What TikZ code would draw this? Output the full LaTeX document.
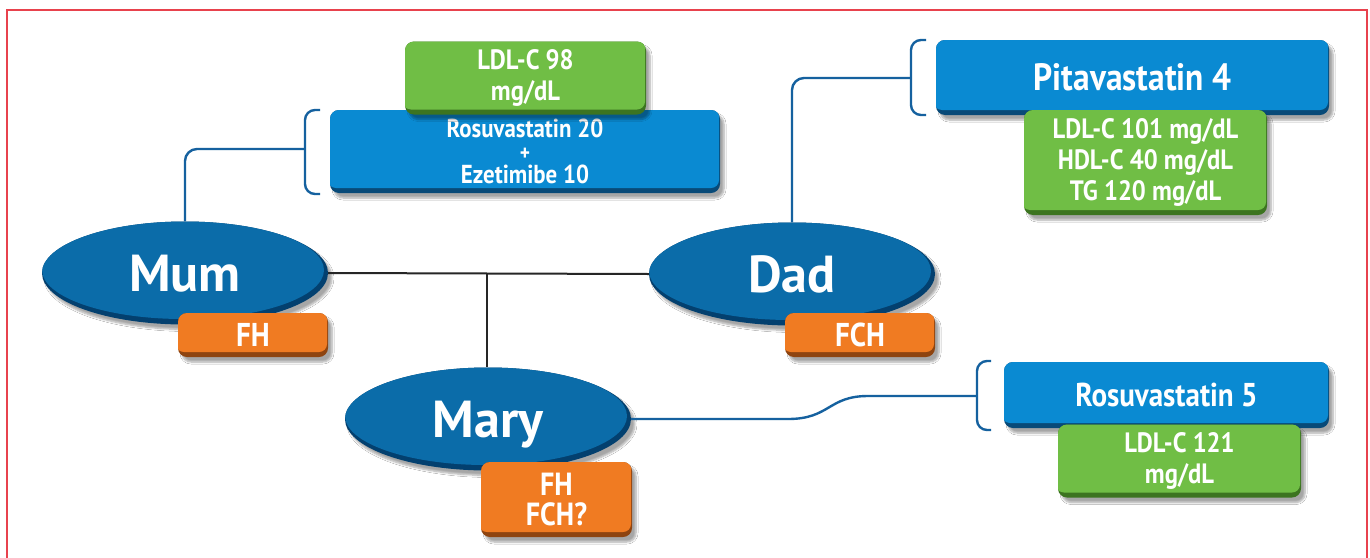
\documentclass[tikz,border=0pt]{standalone}
\usepackage{fontspec}
\setmainfont{PT Sans}
\newfontfamily\boxfont[FakeStretch=0.88]{PT Sans}
\usetikzlibrary{shapes.geometric,shadows.blur}
\definecolor{ellmain}{HTML}{0B6CA9}
\definecolor{elldark}{HTML}{03406F}
\definecolor{bluemain}{HTML}{0A8AD2}
\definecolor{bluedark}{HTML}{084A78}
\definecolor{greenmain}{HTML}{70BE45}
\definecolor{greendark}{HTML}{3C7420}
\definecolor{orangemain}{HTML}{F07B22}
\definecolor{orangedark}{HTML}{8E4410}
\definecolor{connblue}{HTML}{15619F}
\definecolor{framered}{HTML}{E8424D}
\tikzset{
  shade box/.style={blur shadow={shadow xshift=4pt, shadow yshift=-5pt, shadow opacity=35, shadow blur steps=6}},
  bevelbox/.style n args={2}{rectangle, rounded corners=9pt, inner sep=0pt, fill=#2, text=white, align=center,
    shade box,
    path picture={\fill[#1, rounded corners=8pt] ([xshift=-2pt,yshift=2pt]path picture bounding box.north west) rectangle ([xshift=-1pt,yshift=5pt]path picture bounding box.south east);}},
  bluebox/.style={bevelbox={bluemain}{bluedark}},
  greenbox/.style={bevelbox={greenmain}{greendark}},
  orangebox/.style={bevelbox={orangemain}{orangedark}},
  famell/.style={ellipse, minimum width=286pt, minimum height=103pt, inner sep=0pt, fill=elldark, text=white,
    shade box, font=\fontsize{52}{52}\selectfont\bfseries, text height=36pt, text depth=0pt,
    path picture={\fill[ellmain] ([xshift=-2pt,yshift=3pt]path picture bounding box.center) ellipse [x radius=141pt, y radius=49pt];}},
  btext/.style={font=\boxfont\bfseries\fontsize{28}{31}\selectfont},
  conn/.style={draw=connblue, line width=2.4pt, rounded corners=12pt},
  bracket/.style={draw=connblue, line width=2.4pt, rounded corners=10pt},
  family/.style={draw=black!85, line width=2pt},
}
\begin{document}
\begin{tikzpicture}[x=1pt,y=-1pt]
\useasboundingbox (0,0) rectangle (1370,557);
\fill[white] (0,0) rectangle (1370,557);
\draw[framered, line width=1.6pt] (7,10) rectangle (1367,620);

% family ellipses
\node[famell] (mum) at (185,273) {Mum};
\node[famell] (dad) at (792,274) {Dad};
\node[famell] (mary) at (488,419) {Mary};

% family lines
\coordinate (jn) at (487,273);
\draw[family] (mum.east) -- (dad.west);
\draw[family] (jn) -- (mary.north -| jn);

% diagnosis boxes
\node[orangebox, minimum width=150pt, minimum height=44pt, font=\boxfont\bfseries\fontsize{33}{33}\selectfont] (mumfh) at (253,335) {FH};
\node[orangebox, minimum width=150pt, minimum height=44pt, font=\boxfont\bfseries\fontsize{33}{33}\selectfont] (dadfch) at (860,335) {FCH};
\node[orangebox, minimum width=151pt, minimum height=75pt, font=\boxfont\bfseries\fontsize{32}{30}\selectfont] (maryfh) at (556.5,499.5) {FH\\FCH?};

% Mum therapy
\node[bluebox, minimum width=390pt, minimum height=83pt, font=\boxfont\bfseries\fontsize{26}{23}\selectfont] (mumrx) at (525,151.5) {Rosuvastatin 20\\{\fontsize{22}{23}\selectfont +}\\Ezetimibe 10};
\node[greenbox, minimum width=241pt, minimum height=73pt, btext] (mumldl) at (525.5,78) {LDL-C 98\\mg/dL};

% Dad therapy
\node[bluebox, minimum width=393pt, minimum height=75pt, font=\boxfont\bfseries\fontsize{38}{38}\selectfont] (dadrx) at (1132.5,77.5) {Pitavastatin 4};
\node[greenbox, minimum width=243pt, minimum height=105pt, btext] (dadldl) at (1145.5,162.5) {LDL-C 101 mg/dL\\HDL-C 40 mg/dL\\TG 120 mg/dL};

% Mary therapy
\node[bluebox, minimum width=325pt, minimum height=66pt, font=\boxfont\bfseries\fontsize{33}{33}\selectfont] (maryrx) at (1166.5,395) {Rosuvastatin 5};
\node[greenbox, minimum width=243pt, minimum height=73pt, btext] (maryldl) at (1179.5,461) {LDL-C 121\\mg/dL};

% brackets
\draw[bracket] (320,110) -- (305,110) -- (305,194) -- (320,194);
\draw[bracket] (926,40) -- (911,40) -- (911,115) -- (926,115);
\draw[bracket] (991,361) -- (977,361) -- (977,430) -- (991,430);
\coordinate (brmum) at (305,149);
\coordinate (brdad) at (911,78);
\coordinate (brmary) at (977,396);

% connectors
\draw[conn] (mum.north) |- (brmum);
\draw[conn] (dad.north) |- (brdad);
\draw[draw=connblue, line width=2.4pt] (mary.east) -- (788,419) .. controls (830,419) and (828,396) .. (868,396) -- (brmary);
\end{tikzpicture}
\end{document}
